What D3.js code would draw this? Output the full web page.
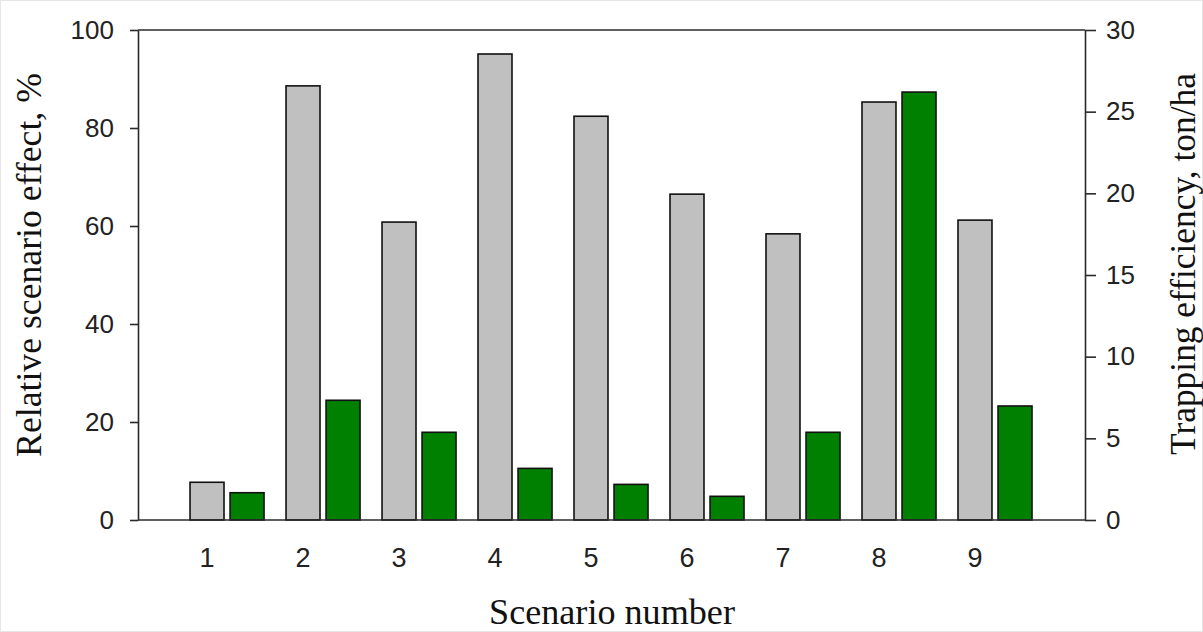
<!DOCTYPE html>
<html><head><meta charset="utf-8">
<script src="https://cdn.jsdelivr.net/npm/d3@7/dist/d3.min.js"></script>
<style>body{margin:0;background:#fff;} svg{display:block;}</style>
</head><body>
<svg id="chart" width="1203" height="632"></svg>
<script>
const categories = [1,2,3,4,5,6,7,8,9];
const relativeEffect = [7.7, 88.6, 60.8, 95.1, 82.4, 66.5, 58.4, 85.3, 61.2];
const trappingEfficiency = [1.67, 7.33, 5.37, 3.16, 2.18, 1.45, 5.37, 26.2, 6.98];
const leftTicks = [0,20,40,60,80,100];
const rightTicks = [0,5,10,15,20,25,30];

const svg = d3.select('#chart');
const L = 138, R = 1085, T = 30, B = 520;
svg.append('rect').attr('x',0.5).attr('y',0.5).attr('width',1202).attr('height',631)
  .attr('fill','#fff').attr('stroke','#e6e6e6');

const x = d3.scaleLinear().domain([0.281, 10.146]).range([L, R]);
const yL = d3.scaleLinear().domain([0,100]).range([B, T]);
const yR = d3.scaleLinear().domain([0,30]).range([B, T]);
const barW = x(1.354) - x(1);
const offset = 0.417;

svg.append('g').selectAll('rect').data(categories).join('rect')
  .attr('x', (d,i)=>x(d)-barW/2).attr('y',(d,i)=>yL(relativeEffect[i]))
  .attr('width',barW).attr('height',(d,i)=>yL(0)-yL(relativeEffect[i]))
  .attr('fill','#c0c0c0').attr('stroke','#111').attr('stroke-width',1.6);
svg.append('g').selectAll('rect').data(categories).join('rect')
  .attr('x', (d,i)=>x(d+offset)-barW/2).attr('y',(d,i)=>yR(trappingEfficiency[i]))
  .attr('width',barW).attr('height',(d,i)=>yR(0)-yR(trappingEfficiency[i]))
  .attr('fill','#008000').attr('stroke','#111').attr('stroke-width',1.6);

const axisCol = '#2a2a2a';
svg.append('line').attr('x1',L).attr('x2',R).attr('y1',T).attr('y2',T).attr('stroke',axisCol).attr('stroke-width',1.6);
svg.append('line').attr('x1',L).attr('x2',R).attr('y1',B).attr('y2',B).attr('stroke',axisCol).attr('stroke-width',1.6);

const gl = svg.append('g').attr('transform',`translate(${L},0)`)
  .call(d3.axisLeft(yL).tickValues(leftTicks).tickSize(8).tickSizeOuter(0).tickPadding(16));
const gr = svg.append('g').attr('transform',`translate(${R},0)`)
  .call(d3.axisRight(yR).tickValues(rightTicks).tickSize(11).tickSizeOuter(0).tickPadding(10));
[gl,gr].forEach(g=>{
  g.select('.domain').attr('stroke',axisCol).attr('stroke-width',1.6);
  g.selectAll('.tick line').attr('stroke',axisCol).attr('stroke-width',1.6);
  g.selectAll('.tick text').attr('font-family','Liberation Sans, Arial, sans-serif')
    .attr('font-size',26).attr('fill','#222');
});

svg.append('g').selectAll('text').data(categories).join('text')
  .attr('x',d=>x(d)).attr('y',567).attr('text-anchor','middle')
  .attr('font-family','Liberation Sans, Arial, sans-serif').attr('font-size',27).attr('fill','#222')
  .text(d=>d);

const serif = 'Liberation Serif, Times New Roman, serif';
function fitTitle(sel, target){
  sel.attr('font-size',30);
  const len = sel.node().getComputedTextLength();
  sel.attr('font-size', 30*target/len);
}
fitTitle(svg.append('text').attr('transform','translate(41,265) rotate(-90)').attr('text-anchor','middle')
  .attr('font-family',serif).attr('fill','#111').text('Relative scenario effect, %'), 384);
fitTitle(svg.append('text').attr('transform','translate(1195,264) rotate(-90)').attr('text-anchor','middle')
  .attr('font-family',serif).attr('fill','#111').text('Trapping efficiency, ton/ha'), 382);
fitTitle(svg.append('text').attr('x',612).attr('y',624).attr('text-anchor','middle')
  .attr('font-family',serif).attr('fill','#111').text('Scenario number'), 246);
</script>
</body></html>
